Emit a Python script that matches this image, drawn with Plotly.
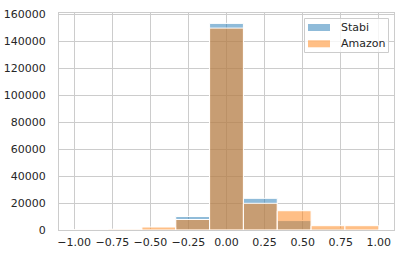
import plotly.graph_objects as go

bin_edges = [-1 + 2 * i / 9 for i in range(10)]
bin_centers = [(bin_edges[i] + bin_edges[i + 1]) / 2 for i in range(9)]
bin_width = 2 / 9

series_names = ["Stabi", "Amazon"]
stabi = [100, 200, 500, 10000, 153300, 23500, 7000, 900, 300]
amazon = [300, 600, 2200, 7800, 149800, 19800, 14300, 3200, 3200]
series_colors = ["rgba(31,119,180,0.5)", "rgba(255,127,14,0.5)"]

x_ticks = [-1.0, -0.75, -0.5, -0.25, 0.0, 0.25, 0.5, 0.75, 1.0]
x_tick_text = ["\u22121.00", "\u22120.75", "\u22120.50", "\u22120.25", "0.00", "0.25", "0.50", "0.75", "1.00"]
y_ticks = [0, 20000, 40000, 60000, 80000, 100000, 120000, 140000, 160000]

W, H = 406, 257
L, R, T, B = 59, 12, 13, 27
pw, ph = W - L - R, H - T - B

def px(x):
    return (x - L) / pw

def py(y):
    return 1 - (y - T) / ph

fig = go.Figure()
for name, vals, col in zip(series_names, [stabi, amazon], series_colors):
    fig.add_trace(go.Bar(x=bin_centers, y=vals, width=bin_width, name=name, showlegend=False,
                         marker=dict(color=col, line=dict(color="white", width=1))))

shapes = []
annotations = []
shapes.append(dict(type="rect", xref="paper", yref="paper", x0=px(304.5), x1=px(388.5),
                   y0=py(52.5), y1=py(18.5),
                   line=dict(color="#cccccc", width=1), fillcolor="rgba(255,255,255,0.8)", layer="above"))
for i, (name, col) in enumerate(zip(series_names, series_colors)):
    top = 24 + i * 16.3
    shapes.append(dict(type="rect", xref="paper", yref="paper", x0=px(308), x1=px(330),
                       y0=py(top + 7), y1=py(top), line=dict(width=0), fillcolor=col, layer="above"))
    annotations.append(dict(xref="paper", yref="paper", x=px(339), y=py(top + 3.5), text=name,
                            showarrow=False, xanchor="left", yanchor="middle",
                            font=dict(family="DejaVu Sans", size=11, color="#262626")))

fig.update_layout(
    width=W, height=H,
    margin=dict(l=L, r=R, t=T, b=B),
    barmode="overlay",
    paper_bgcolor="white", plot_bgcolor="white",
    font=dict(family="DejaVu Sans", size=11, color="#262626"),
    showlegend=False,
    shapes=shapes, annotations=annotations,
    xaxis=dict(range=[-1.1, 1.1], tickvals=x_ticks, ticktext=x_tick_text,
               showgrid=True, gridcolor="#cccccc", gridwidth=1,
               showline=True, linecolor="#cccccc", linewidth=1, mirror=True,
               zeroline=False, ticks="", ticklabelstandoff=2, automargin=False),
    yaxis=dict(range=[0, 161000], tickvals=y_ticks, tickformat="d",
               showgrid=True, gridcolor="#cccccc", gridwidth=1,
               showline=True, linecolor="#cccccc", linewidth=1, mirror=True,
               zeroline=False, ticks="", ticklabelstandoff=10, automargin=False),
)

fig.write_html("out.html")
